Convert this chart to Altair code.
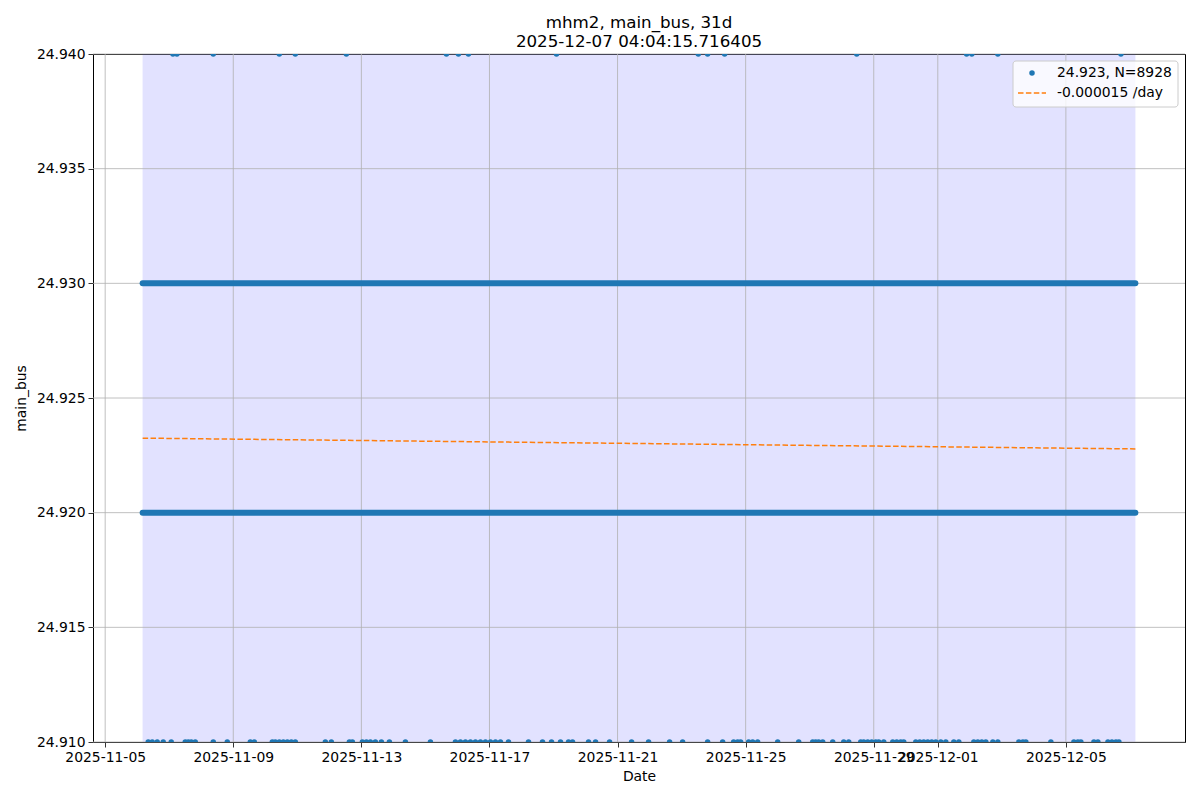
import altair as alt
import pandas as pd

# ---- data ----
title_lines = ["mhm2, main_bus, 31d", "2025-12-07 04:04:15.716405"]

span_start = "2025-11-06T04:04:15Z"
span_end = "2025-12-07T04:04:15Z"

# dense 5-minute sample bands (continuous runs of points)
band_levels = [24.92, 24.93]
band_starts = [span_start, span_start]
band_ends = [span_end, span_end]

# sparse samples at 24.94 (clipped at top edge)
top_times = [
    "2025-11-07T02:47", "2025-11-07T05:46", "2025-11-08T09:00", "2025-11-10T10:30",
    "2025-11-10T22:30", "2025-11-12T12:45", "2025-11-15T15:45", "2025-11-16T00:45",
    "2025-11-16T08:15", "2025-11-19T02:15", "2025-11-23T12:30", "2025-11-23T19:30",
    "2025-11-24T08:15", "2025-11-28T11:15", "2025-12-01T21:36", "2025-12-02T01:30",
    "2025-12-02T21:00", "2025-12-06T17:15",
]
top_value = 24.94

# sparse samples at 24.91 (clipped at bottom edge)
bottom_times = [
    "2025-11-06T08:15", "2025-11-06T11:15", "2025-11-06T15:00", "2025-11-06T19:30",
    "2025-11-07T01:30", "2025-11-07T12:00", "2025-11-07T14:15", "2025-11-07T16:30",
    "2025-11-07T19:30", "2025-11-08T09:00", "2025-11-08T19:30", "2025-11-09T12:45",
    "2025-11-09T15:45", "2025-11-10T05:15", "2025-11-10T07:30", "2025-11-10T10:30",
    "2025-11-10T13:30", "2025-11-10T16:30", "2025-11-10T19:30", "2025-11-10T22:30",
    "2025-11-11T21:00", "2025-11-12T01:30", "2025-11-12T15:00", "2025-11-12T17:15",
    "2025-11-13T00:45", "2025-11-13T03:45", "2025-11-13T06:45", "2025-11-13T10:30",
    "2025-11-13T15:00", "2025-11-13T21:00", "2025-11-14T09:00", "2025-11-15T03:45",
    "2025-11-15T22:30", "2025-11-16T02:15", "2025-11-16T06:00", "2025-11-16T09:45",
    "2025-11-16T13:30", "2025-11-16T17:15", "2025-11-16T21:00", "2025-11-17T00:45",
    "2025-11-17T04:30", "2025-11-17T08:15", "2025-11-17T14:15", "2025-11-18T05:15",
    "2025-11-18T15:45", "2025-11-18T22:30", "2025-11-19T05:15", "2025-11-19T11:15",
    "2025-11-19T14:15", "2025-11-20T02:15", "2025-11-20T07:30", "2025-11-20T18:00",
    "2025-11-21T10:30", "2025-11-21T23:15", "2025-11-22T15:00", "2025-11-23T00:45",
    "2025-11-23T19:30", "2025-11-24T06:45", "2025-11-24T15:00", "2025-11-24T18:00",
    "2025-11-24T20:15", "2025-11-25T02:15", "2025-11-25T05:15", "2025-11-25T09:00",
    "2025-11-26T00:00", "2025-11-26T15:45", "2025-11-27T02:15", "2025-11-27T04:30",
    "2025-11-27T06:45", "2025-11-27T09:45", "2025-11-27T17:15", "2025-11-28T01:30",
    "2025-11-28T05:15", "2025-11-28T14:15", "2025-11-28T16:30", "2025-11-28T19:30",
    "2025-11-28T22:30", "2025-11-29T01:30", "2025-11-29T03:45", "2025-11-29T07:30",
    "2025-11-29T14:15", "2025-11-29T17:15", "2025-11-29T20:15", "2025-11-29T22:30",
    "2025-11-30T07:30", "2025-11-30T10:30", "2025-11-30T13:30", "2025-11-30T16:30",
    "2025-11-30T19:30", "2025-11-30T22:30", "2025-12-01T02:15", "2025-12-01T06:00",
    "2025-12-01T12:00", "2025-12-01T15:45", "2025-12-02T03:00", "2025-12-02T06:00",
    "2025-12-02T09:00", "2025-12-02T12:00", "2025-12-02T17:15", "2025-12-02T21:00",
    "2025-12-03T12:45", "2025-12-03T15:45", "2025-12-03T18:00", "2025-12-04T12:45",
    "2025-12-05T06:00", "2025-12-05T09:00", "2025-12-05T11:15", "2025-12-05T21:00",
    "2025-12-06T00:00", "2025-12-06T07:30", "2025-12-06T10:30", "2025-12-06T13:30",
    "2025-12-06T15:45",
]
bottom_value = 24.91

trend_times = [span_start, span_end]
trend_values = [24.92325, 24.92278]

legend_labels = ["24.923, N=8928", "-0.000015 /day"]

x_tick_dates = ["2025-11-05", "2025-11-09", "2025-11-13", "2025-11-17", "2025-11-21",
                "2025-11-25", "2025-11-29", "2025-12-01", "2025-12-05"]
y_ticks = [24.910, 24.915, 24.920, 24.925, 24.930, 24.935, 24.940]

# ---- tables ----
pts = pd.DataFrame({
    "t": [s + ":00Z" for s in top_times] + [s + ":00Z" for s in bottom_times],
    "v": [top_value] * len(top_times) + [bottom_value] * len(bottom_times),
})
bands = pd.DataFrame({"t": band_starts, "t2": band_ends, "v": band_levels})
span = pd.DataFrame({"t": [span_start], "t2": [span_end]})
trend = pd.DataFrame({"t": trend_times, "v": trend_values})
xgrid = pd.DataFrame({"t": [d + "T00:00:00Z" for d in x_tick_dates]})
ygrid = pd.DataFrame({"v": y_ticks})
one = pd.DataFrame({"a": [0]})

BLUE = "#1f77b4"
ORANGE = "#ff7f0e"
GRID = "#b0b0b0"
W, H = 1092, 688

xscale = alt.Scale(
    type="utc",
    domain=[alt.DateTime(year=2025, month=11, date=4, hours=14, minutes=52, utc=True),
            alt.DateTime(year=2025, month=12, date=8, hours=17, minutes=16, utc=True)],
)
yscale = alt.Scale(domain=[24.91, 24.94], nice=False, zero=False)

xaxis = alt.Axis(
    title="Date",
    values=[alt.DateTime(year=int(d[:4]), month=int(d[5:7]), date=int(d[8:10]), utc=True)
            for d in x_tick_dates],
    labelExpr="utcFormat(datum.value, '%Y-%m-%d')",
    labelOverlap=False, labelFlush=False,
    titlePadding=6,
)
yaxis = alt.Axis(title="main_bus", values=y_ticks, format=".3f", titlePadding=8)

X = alt.X("t:T", scale=xscale, axis=xaxis)
Y = alt.Y("v:Q", scale=yscale, axis=yaxis)

span_layer = alt.Chart(span).mark_rect(
    color="blue", opacity=0.11, stroke="blue", strokeOpacity=0.06
).encode(x=X, x2="t2:T", y=alt.value(0), y2=alt.value(H))

xgrid_layer = alt.Chart(xgrid).mark_rule(color=GRID, strokeWidth=0.8).encode(
    x=X, y=alt.value(0), y2=alt.value(H))
ygrid_layer = alt.Chart(ygrid).mark_rule(color=GRID, strokeWidth=0.8).encode(
    y=Y, x=alt.value(0), x2=alt.value(W))

band_layer = alt.Chart(bands).mark_rule(
    color=BLUE, strokeWidth=6, strokeCap="round"
).encode(x=X, x2="t2:T", y=Y)

pts_layer = alt.Chart(pts).mark_circle(
    color=BLUE, size=30, opacity=1, clip=True
).encode(x=X, y=Y)

trend_layer = alt.Chart(trend).mark_line(
    color=ORANGE, strokeWidth=1.5, strokeDash=[5.5, 2.4]
).encode(x=X, y=Y)

# legend box (top right)
leg_box = alt.Chart(one).mark_rect(
    fill="white", fillOpacity=0.8, stroke="#cccccc", strokeWidth=1, cornerRadius=3
).encode(x=alt.value(920), x2=alt.value(1085), y=alt.value(7), y2=alt.value(53))
leg_dot = alt.Chart(one).mark_circle(color=BLUE, size=30, opacity=1).encode(
    x=alt.value(939), y=alt.value(19))
leg_line = alt.Chart(one).mark_rule(
    color=ORANGE, strokeWidth=1.5, strokeDash=[5.5, 2.4]
).encode(x=alt.value(925), x2=alt.value(953), y=alt.value(39))
leg_t1 = alt.Chart(one).mark_text(
    text=legend_labels[0], align="left", baseline="middle", fontSize=13.9, color="black"
).encode(x=alt.value(964), y=alt.value(19))
leg_t2 = alt.Chart(one).mark_text(
    text=legend_labels[1], align="left", baseline="middle", fontSize=13.9, color="black"
).encode(x=alt.value(964), y=alt.value(39))

chart = alt.layer(
    span_layer, xgrid_layer, ygrid_layer, band_layer, pts_layer, trend_layer,
    leg_box, leg_dot, leg_line, leg_t1, leg_t2,
).properties(
    width=W, height=H,
    title=alt.TitleParams(
        text=title_lines, fontSize=16.7, fontWeight="normal", anchor="middle",
        offset=-4, lineHeight=19, color="black", font="DejaVu Sans",
    ),
    autosize=alt.AutoSizeParams(type="none"),
    padding={"left": 85, "top": 46, "right": 7, "bottom": 50},
).configure(
    font="DejaVu Sans",
).configure_view(
    stroke="black", strokeWidth=1,
).configure_axis(
    domain=False, grid=False,
    tickColor="black", tickSize=5, tickWidth=0.8,
    labelColor="black", labelFontSize=13.9, labelFont="DejaVu Sans",
    titleColor="black", titleFontSize=13.9, titleFontWeight="normal", titleFont="DejaVu Sans",
    labelPadding=3,
)

chart.save("out.html", embed_options={"renderer": "svg", "actions": False})
